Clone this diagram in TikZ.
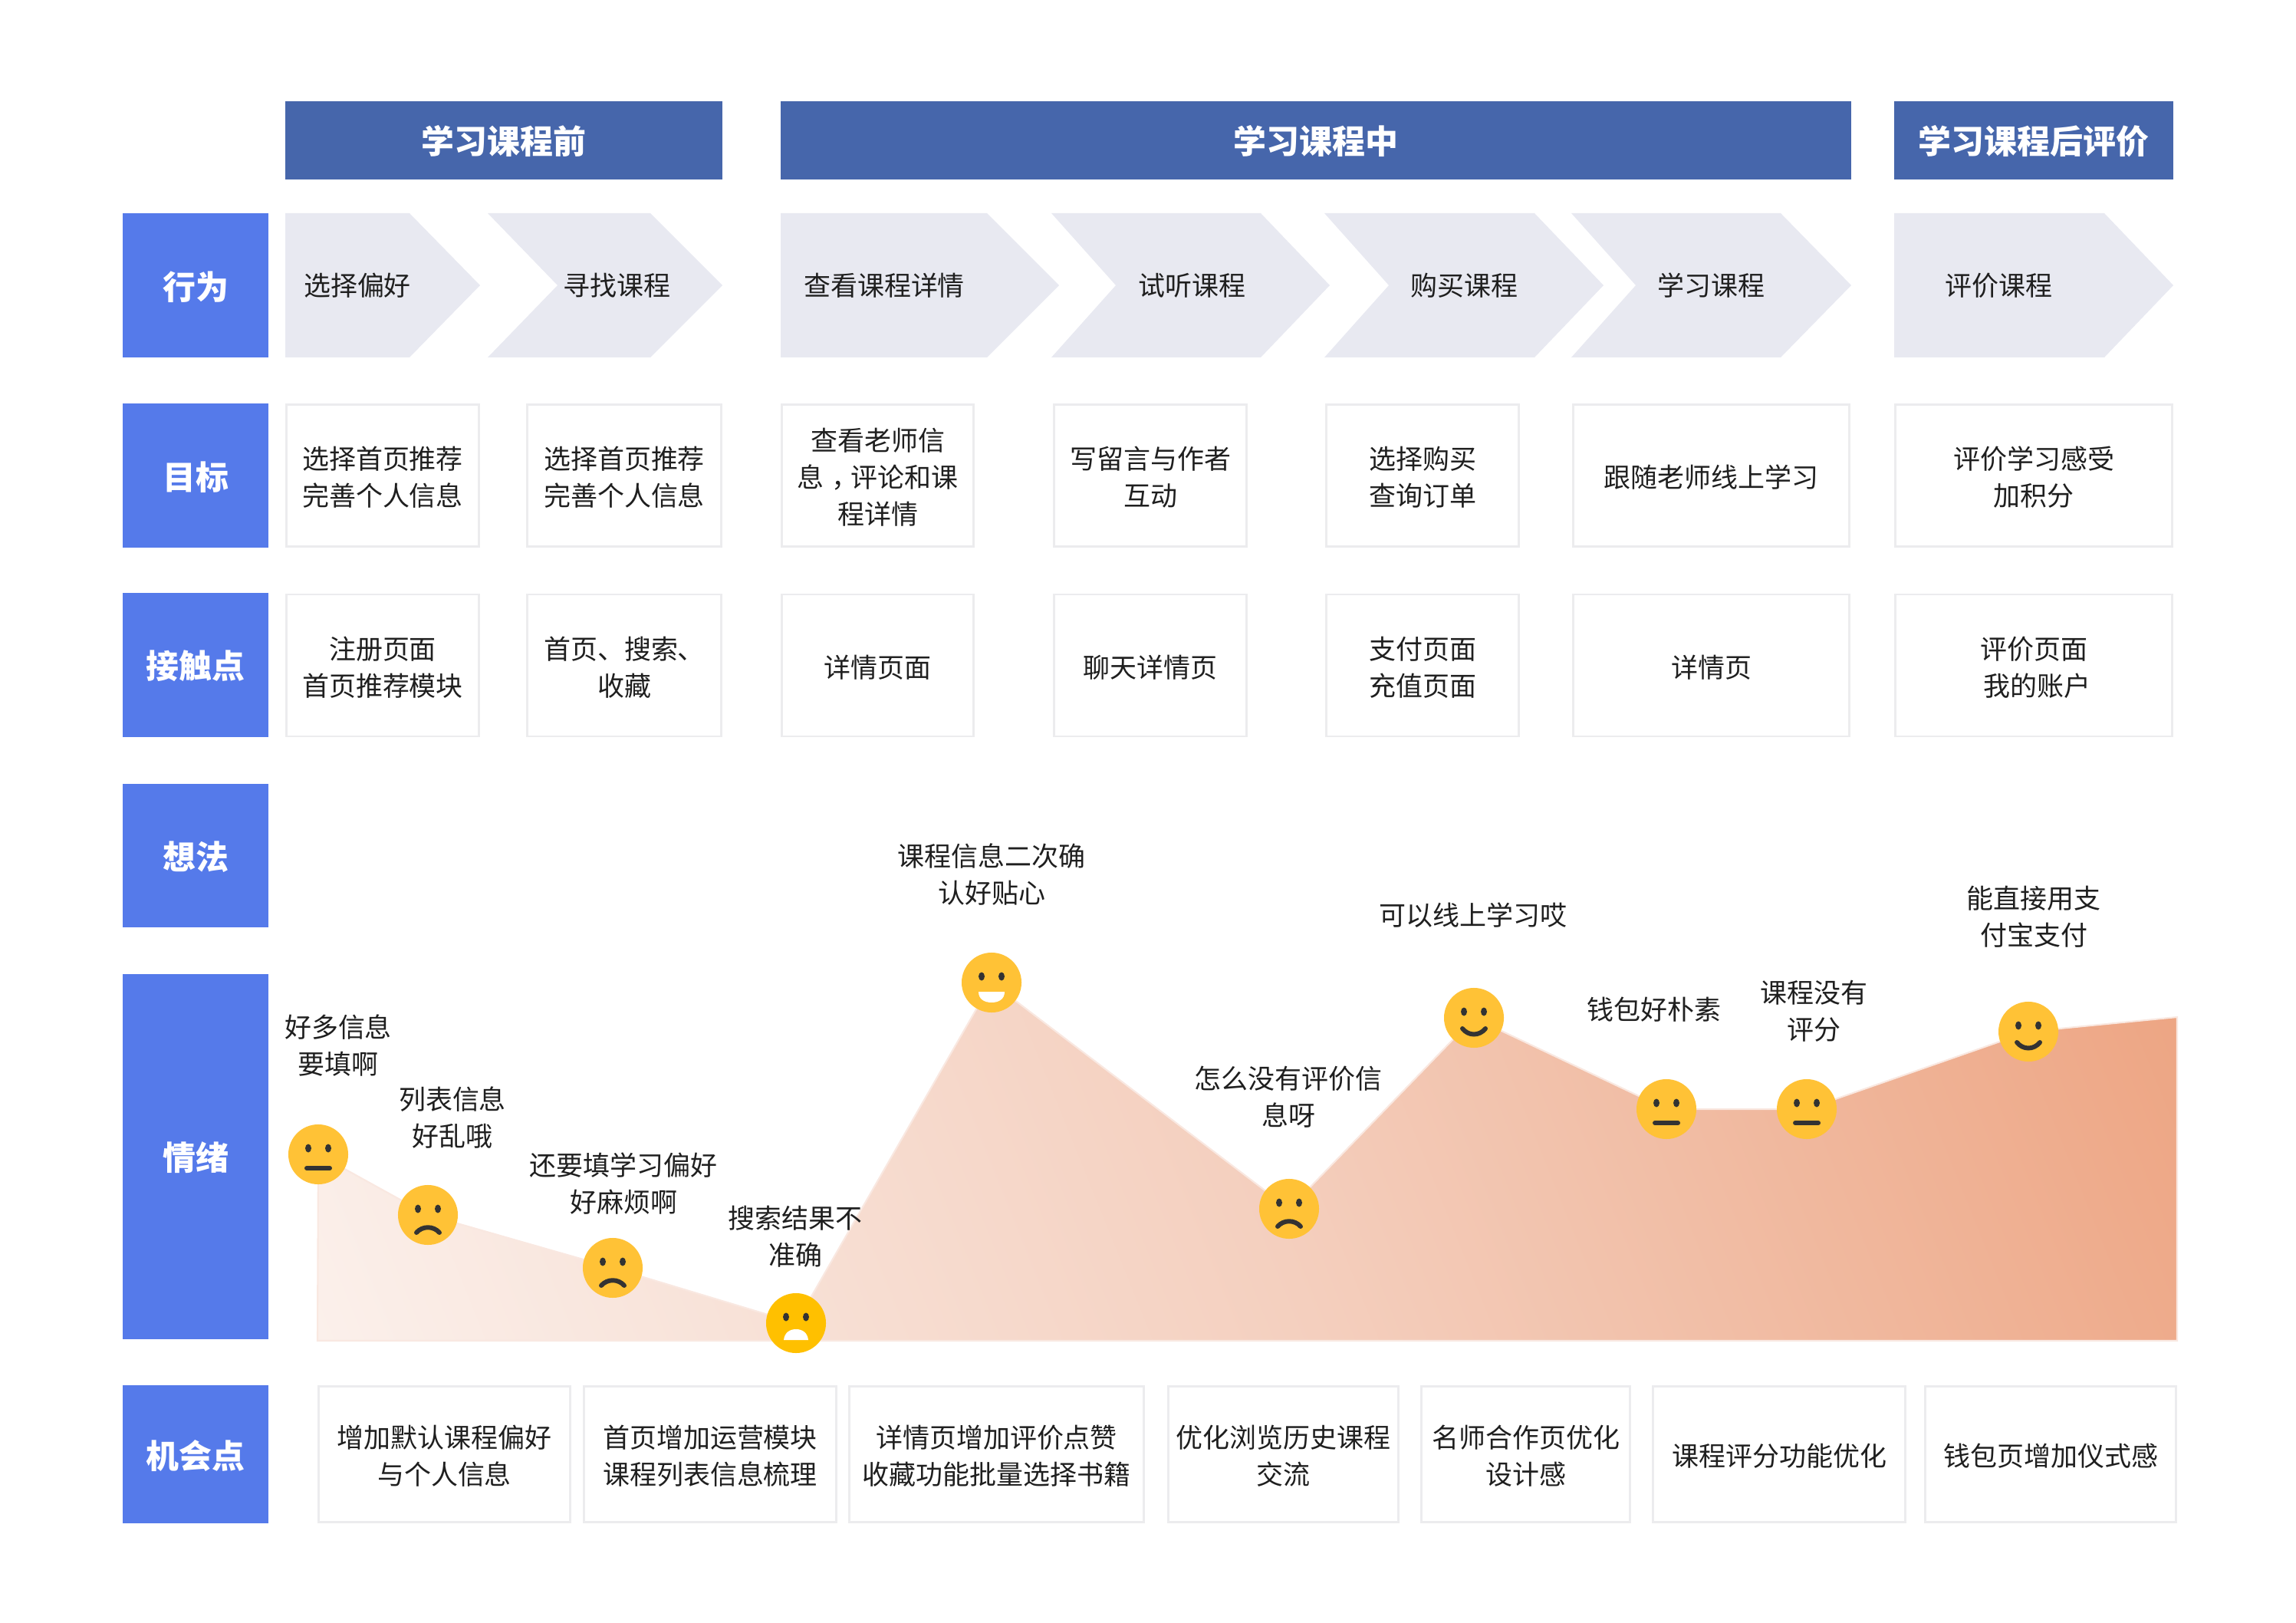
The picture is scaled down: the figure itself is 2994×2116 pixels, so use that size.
\documentclass[tikz,border=0pt]{standalone}
\usepackage{fontspec}
\setmainfont{Noto Sans CJK SC}
\definecolor{headblue}{HTML}{4666AB}
\definecolor{rowblue}{HTML}{557AEA}
\definecolor{stepgrey}{HTML}{E8E9F1}
\definecolor{cellline}{HTML}{ECECEE}
\definecolor{facefill}{HTML}{FFC236}
\definecolor{facedeep}{HTML}{FFC000}
\definecolor{facedark}{HTML}{333333}
\definecolor{areaedge}{HTML}{F9E8E1}
\definecolor{arealeft}{HTML}{FBF0EB}
\definecolor{areamid}{HTML}{F4CFBE}
\definecolor{arearight}{HTML}{EDA583}
\pgfdeclarehorizontalshading{areashade}{100bp}{color(0bp)=(arealeft); color(17.5bp)=(arealeft); color(50bp)=(areamid); color(82.5bp)=(arearight); color(100bp)=(arearight)}
\newcommand{\cellstrut}{\rule{0pt}{10.2pt}}
\tikzset{
	headbox/.style={fill=headblue,text=white,font=\bfseries\fontsize{12.2}{14}\selectfont,inner sep=0pt,outer sep=0pt,minimum height=1.02cm,execute at begin node=\rule{0pt}{11.4pt}},
	rowbox/.style={fill=rowblue,text=white,font=\bfseries\fontsize{12.2}{14}\selectfont,inner sep=0pt,outer sep=0pt,minimum width=1.9cm,execute at begin node=\rule{0pt}{11.4pt}},
	celltext/.style={text=black!88,align=center,font=\fontsize{9.95}{13.6}\selectfont,inner sep=0pt,execute at end node=\rule[-1.3pt]{0pt}{1.3pt}},
	cellbox/.style={celltext,draw=cellline,line width=0.7pt,outer sep=0pt},
	facecircle/.style={circle,fill=facefill,inner sep=0pt,outer sep=0pt,minimum size=0.78cm},
	mouthline/.style={draw=facedark,line width=1.7pt,line cap=round},
	pics/eyes/.style={code={
		\fill[facedark] (-13,-8) ellipse (4 and 5.5);
		\fill[facedark] (13,-8) ellipse (4 and 5.5);
	}},
	pics/neutralmouth/.style={code={
		\pic {eyes};
		\draw[mouthline] (-15,18) -- (15,18);
	}},
	pics/sadmouth/.style={code={
		\pic {eyes};
		\draw[mouthline] (-15,23) .. controls (-7,14) and (7,14) .. (15,23);
	}},
	pics/smilemouth/.style={code={
		\pic {eyes};
		\draw[mouthline] (-15,14) .. controls (-7,24) and (7,24) .. (15,14);
	}},
	pics/happymouth/.style={code={
		\pic {eyes};
		\fill[white] (-17,12) -- (17,12) .. controls (17,22) and (9,26) .. (0,26) .. controls (-9,26) and (-17,22) .. (-17,12) -- cycle;
	}},
	pics/scaredmouth/.style={code={
		\pic {eyes};
		\fill[white] (-16,22) -- (16,22) .. controls (15,13) and (9,8) .. (0,8) .. controls (-9,8) and (-15,13) .. (-16,22) -- cycle;
	}},
}

\begin{document}
\begin{tikzpicture}[x=0.01cm,y=-0.01cm]
	\useasboundingbox (0,0) rectangle (2994,2116);

	\node[headbox,minimum width=5.70cm] (headbefore) at (657,183) {学习课程前};
	\node[headbox,minimum width=13.96cm] (headduring) at (1716,183) {学习课程中};
	\node[headbox,minimum width=3.64cm] (headafter) at (2652,183) {学习课程后评价};

	\foreach \n/\y/\h/\txt in {act/372/1.88/行为,goal/620/1.88/目标,touch/867/1.87/接触点,idea/1115.5/1.87/想法,mood/1508/4.75/情绪,chance/1896/1.80/机会点}
		\node[rowbox,minimum height=\h cm] (row\n) at (255,\y) {\txt};

	\foreach \n/\xa/\xn/\xb/\xc/\tx/\txt in {
		1/372/372/534/626/466/选择偏好,
		2/636/727/848/942/804/寻找课程,
		3/1018/1018/1287/1381/1153/查看课程详情,
		4/1371/1455/1644/1734/1554/试听课程,
		5/1727/1811/2001/2091/1909/购买课程,
		6/2049/2133/2322/2414/2231/学习课程,
		7/2470/2470/2744/2834/2606/评价课程}
	{
		\fill[stepgrey] (\xa,278) -- (\xb,278) -- (\xc,372) -- (\xb,466) -- (\xa,466) -- (\xn,372) -- cycle;
		\node[celltext] (step\n) at (\tx,370) {\cellstrut\txt};
	}

	\foreach \n/\cx/\w/\txt in {
		1/499/251/{选择首页推荐\\完善个人信息},
		2/814/253/{选择首页推荐\\完善个人信息},
		3/1144.5/250/{查看老师信\\息\makebox[0.35cm][l]{\hspace{0.1cm}，}评论和课\\程详情},
		4/1500/251/{写留言与作者\\互动},
		5/1855/251/{选择购买\\查询订单},
		6/2231.5/360/{跟随老师线上学习},
		7/2652/361/{评价学习感受\\加积分}}
		\node[cellbox,minimum width=\w*0.01cm,minimum height=1.85cm] (goal\n) at (\cx,620) {\cellstrut\txt};

	\foreach \n/\cx/\w/\txt in {
		1/499/251/{注册页面\\首页推荐模块},
		2/814/253/{首页、搜索、\\收藏},
		3/1144.5/250/{详情页面},
		4/1500/251/{聊天详情页},
		5/1855/251/{支付页面\\充值页面},
		6/2231.5/360/{详情页},
		7/2652/361/{评价页面\\\hspace*{0.08cm}我的账户}}
		\node[cellbox,minimum width=\w*0.01cm,minimum height=1.85cm] (touch\n) at (\cx,867.5) {\cellstrut\txt};

	\draw[draw=areaedge,line width=0.6pt,shading=areashade,shading angle=22]
		(414,1748) -- (415,1505) -- (558,1584) -- (799,1653) -- (1038,1725) -- (1293,1281) -- (1681,1576)
		-- (1922,1327) -- (2173,1446) -- (2356,1446) -- (2645,1345) -- (2839,1326) -- (2839,1748) -- cycle;

	\foreach \n/\x/\y/\txt in {
		1/441/1361/{好多信息\\要填啊},
		2/590/1455/{列表信息\\好乱哦},
		3/813/1541/{还要填学习偏好\\好麻烦啊},
		4/1037/1610/{搜索结果不\\准确},
		5/1293/1138/{课程信息二次确\\认好贴心},
		6/1680/1428/{怎么没有评价信\\息呀},
		7/1921/1191/{可以线上学习哎},
		8/2157/1314/{钱包好朴素},
		9/2365/1316/{课程没有\\评分},
		10/2652/1193/{能直接用支\\付宝支付}}
		\node[celltext] (note\n) at (\x,\y) {\cellstrut\txt};

	\node[facecircle] (face1) at (415,1505) {};
	\node[facecircle] (face2) at (558,1584) {};
	\node[facecircle] (face3) at (799,1653) {};
	\node[facecircle,fill=facedeep] (face4) at (1038,1725) {};
	\node[facecircle] (face5) at (1293,1281) {};
	\node[facecircle] (face6) at (1681,1576) {};
	\node[facecircle] (face7) at (1922,1327) {};
	\node[facecircle] (face8) at (2173,1446) {};
	\node[facecircle] (face9) at (2356,1446) {};
	\node[facecircle] (face10) at (2645,1345) {};
	\pic at (face1) {neutralmouth};
	\pic at (face2) {sadmouth};
	\pic at (face3) {sadmouth};
	\pic at (face4) {scaredmouth};
	\pic at (face5) {happymouth};
	\pic at (face6) {sadmouth};
	\pic at (face7) {smilemouth};
	\pic at (face8) {neutralmouth};
	\pic at (face9) {neutralmouth};
	\pic at (face10) {smilemouth};

	\foreach \n/\cx/\w/\txt in {
		1/579.5/328/{增加默认课程偏好\\与个人信息},
		2/926/329/{首页增加运营模块\\课程列表信息梳理},
		3/1299.5/384/{详情页增加评价点赞\\收藏功能批量选择书籍},
		4/1673.5/300/{优化浏览历史课程\\交流},
		5/1989.5/272/{名师合作页优化\\设计感},
		6/2320/329/{课程评分功能优化},
		7/2674/327/{钱包页增加仪式感}}
		\node[cellbox,minimum width=\w*0.01cm,minimum height=1.77cm] (chance\n) at (\cx,1896) {\cellstrut\txt};
\end{tikzpicture}
\end{document}
